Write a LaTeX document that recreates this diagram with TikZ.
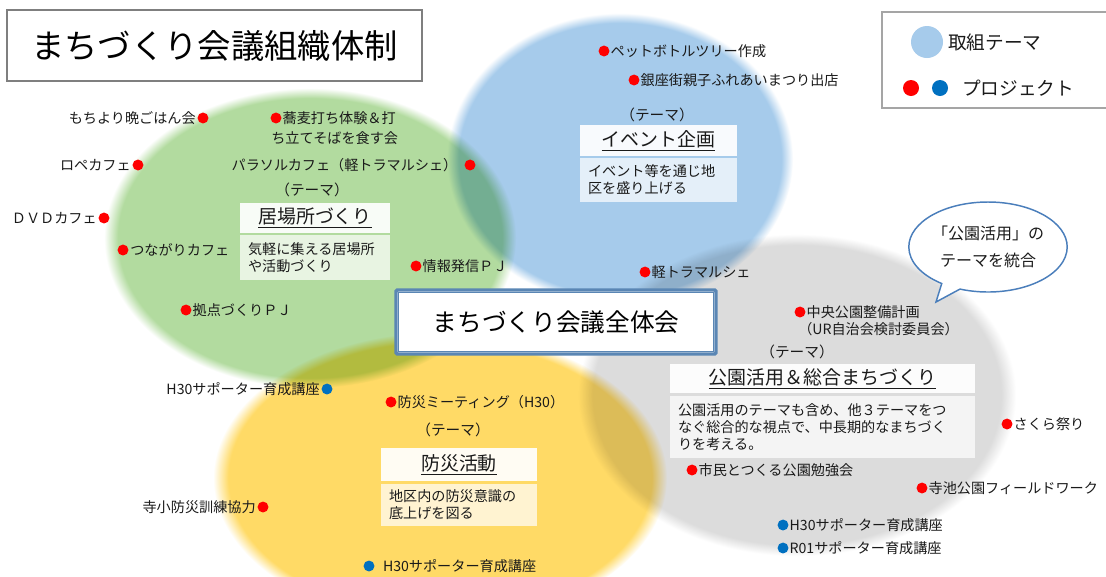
\documentclass[tikz,border=0pt]{standalone}
\usepackage{fontspec}
\setmainfont{Noto Sans CJK JP}
\usetikzlibrary{shapes.callouts}
\definecolor{cgreen}{HTML}{B2DB9F}
\definecolor{cblue}{HTML}{A6CBEB}
\definecolor{cgray}{HTML}{DCDCDC}
\definecolor{cyellow}{HTML}{FFDA66}
\definecolor{dred}{HTML}{FF0000}
\definecolor{dblue}{HTML}{0070C0}
\definecolor{frameblue}{HTML}{5A86B4}
\definecolor{callblue}{HTML}{4A7EBB}
\definecolor{txt}{HTML}{1A1A1A}
\definecolor{boxgray}{HTML}{7F7F7F}
\pgfdeclareradialshading{sgreen}{\pgfpoint{0bp}{0bp}}{color(0bp)=(cgreen); color(23.3bp)=(cgreen); color(25bp)=(white); color(50bp)=(white)}
\pgfdeclareradialshading{sblue}{\pgfpoint{0bp}{0bp}}{color(0bp)=(cblue); color(23.3bp)=(cblue); color(25bp)=(white); color(50bp)=(white)}
\pgfdeclareradialshading{sgray}{\pgfpoint{0bp}{0bp}}{color(0bp)=(cgray); color(23.3bp)=(cgray); color(25bp)=(white); color(50bp)=(white)}
\pgfdeclareradialshading{syellow}{\pgfpoint{0bp}{0bp}}{color(0bp)=(cyellow); color(23.3bp)=(cyellow); color(25bp)=(white); color(50bp)=(white)}
\tikzset{
  rdot/.style={circle, fill=dred, inner sep=0pt, minimum size=8.2pt},
  bdot/.style={circle, fill=dblue, inner sep=0pt, minimum size=8.2pt},
  lbl/.style={inner sep=0pt, font=\fontsize{10.6}{12.75}\selectfont, text=txt, align=left},
  tema/.style={inner sep=0pt, font=\fontsize{11}{13}\selectfont, text=txt},
  ttlbox/.style={fill=white, fill opacity=0.92, text opacity=1, inner sep=0pt, font=\fontsize{14.2}{16}\selectfont, text=txt},
  descbox/.style={fill=white, fill opacity=0.7, text opacity=1, inner xsep=6pt, inner ysep=0pt, align=left, font=\fontsize{10.6}{12.75}\selectfont, text=txt}
}
\begin{document}
\begin{tikzpicture}[x=0.75pt,y=-0.75pt]
\useasboundingbox (0,0) rectangle (1106,576);
\fill[white] (0,0) rectangle (1106,576);
% theme areas
\begin{scope}[blend mode=multiply]
\path[shading=sgreen] (310,238) ellipse [x radius=206, y radius=150];
\path[shading=sblue] (620,159) ellipse [x radius=173, y radius=146];
\path[shading=sgray] (797,395) ellipse [x radius=219, y radius=161];
\path[shading=syellow] (440,478) ellipse [x radius=227, y radius=146];
\end{scope}
% title
\node[draw=boxgray, line width=1.2pt, fill=white, minimum width=311.25pt, minimum height=53.25pt, inner sep=0pt, font=\fontsize{25}{28}\selectfont] (title) at (214.5,45.5) {まちづくり会議組織体制};
% legend
\node[draw=boxgray!70, line width=0.8pt, fill=white, minimum width=171pt, minimum height=72pt, inner sep=0pt] (legend) at (996,60) {};
\node[circle, fill=cblue, inner sep=0pt, minimum size=24pt] (lgdisc) at (927,42) {};
\node[inner sep=0pt, anchor=west, font=\fontsize{14}{16}\selectfont, text=txt] (lgtheme) at (948,42) {取組テーマ};
\node[rdot, minimum size=12pt] (lgred) at (911,88) {};
\node[bdot, minimum size=12pt] (lgblue) at (940,88) {};
\node[inner sep=0pt, anchor=west, font=\fontsize{14}{16}\selectfont, text=txt] (lgproj) at (962,88) {プロジェクト};
% central box
\node[draw=frameblue, line width=2.6pt, fill=white, minimum width=240pt, minimum height=48pt, inner sep=0pt, rounded corners=1pt, font=\fontsize{18.5}{22}\selectfont] (center) at (556,322) {まちづくり会議全体会};
\draw[frameblue, line width=0.8pt] ([shift={(4.5,4.5)}]center.north west) rectangle ([shift={(-4.5,-4.5)}]center.south east);
% callout
\coordinate (tip) at (936,302);
\node[ellipse callout, callout absolute pointer=(tip), draw=callblue, line width=1.1pt, fill=white, minimum width=111pt, minimum height=67.5pt, inner sep=0pt, align=center, font=\fontsize{12}{20}\selectfont, text=txt] (call) at (988,247) {「公園活用」の\\テーマを統合};
% theme: 居場所づくり
\node[tema] (temaA) at (312,190) {（テーマ）};
\node[ttlbox, minimum width=112.5pt, minimum height=22.5pt] (ttlA) at (315,218) {\underline{居場所づくり}};
\node[descbox, text width=100.5pt, minimum height=33.75pt] (descA) at (315,257.5) {気軽に集える居場所\\や活動づくり};
% theme: イベント企画
\node[tema] (temaB) at (657,115) {（テーマ）};
\node[ttlbox, minimum width=117.75pt, minimum height=23.25pt] (ttlB) at (658.5,140.5) {\underline{イベント企画}};
\node[descbox, text width=105.75pt, minimum height=33pt] (descB) at (658.5,180) {イベント等を通じ地\\区を盛り上げる};
% theme: 公園活用
\node[tema] (temaC) at (797,352) {（テーマ）};
\node[ttlbox, minimum width=228.75pt, minimum height=21.75pt] (ttlC) at (822.5,378.5) {\underline{公園活用＆総合まちづくり}};
\node[descbox, text width=216.75pt, minimum height=46.5pt] (descC) at (822.5,427) {公園活用のテーマも含め、他３テーマをつ\\なぐ総合的な視点で、中長期的なまちづく\\りを考える。};
% theme: 防災活動
\node[tema] (temaD) at (453,430) {（テーマ）};
\node[ttlbox, minimum width=117pt, minimum height=24.75pt] (ttlD) at (459,464.5) {\underline{防災活動}};
\node[descbox, text width=105pt, minimum height=31.5pt] (descD) at (459,505) {地区内の防災意識の\\底上げを図る};
% projects
\node[rdot] (d1) at (203,118) {};
\node[lbl, anchor=east] (l1) at ([xshift=-1pt]d1.west) {もちより晩ごはん会};
\node[rdot] (d2) at (276,118) {};
\node[lbl, anchor=west] (l2) at ([xshift=0.5pt]d2.east) {蕎麦打ち体験＆打};
\node[lbl, anchor=west] (l2b) at (271,138) {ち立てそばを食す会};
\node[rdot] (d3) at (138,165) {};
\node[lbl, anchor=east] (l3) at ([xshift=-1pt]d3.west) {ロペカフェ};
\node[rdot] (d4) at (470,165) {};
\node[lbl, anchor=east] (l4) at ([xshift=-5pt]d4.west) {パラソルカフェ（軽トラマルシェ）};
\node[rdot] (d5) at (104,218) {};
\node[lbl, anchor=east] (l5) at ([xshift=-1pt]d5.west) {ＤＶＤカフェ};
\node[rdot] (d6) at (123,250) {};
\node[lbl, anchor=west] (l6) at ([xshift=1pt]d6.east) {つながりカフェ};
\node[rdot] (d7) at (416,266) {};
\node[lbl, anchor=west] (l7) at ([xshift=0.5pt]d7.east) {情報発信ＰＪ};
\node[rdot] (d8) at (186,310) {};
\node[lbl, anchor=west] (l8) at ([xshift=0.5pt]d8.east) {拠点づくりＰＪ};
\node[rdot] (d9) at (604,51) {};
\node[lbl, anchor=west] (l9) at ([xshift=0.5pt]d9.east) {ペットボトルツリー作成};
\node[rdot] (d10) at (634,80) {};
\node[lbl, anchor=west] (l10) at ([xshift=0.5pt]d10.east) {銀座街親子ふれあいまつり出店};
\node[rdot] (d11) at (645,272) {};
\node[lbl, anchor=west] (l11) at ([xshift=0.5pt]d11.east) {軽トラマルシェ};
\node[rdot] (d12) at (800,312) {};
\node[lbl, anchor=west] (l12) at ([xshift=0.5pt]d12.east) {中央公園整備計画};
\node[lbl, anchor=west] (l12b) at (798,329) {（UR自治会検討委員会）};
\node[bdot] (d13) at (327,389) {};
\node[lbl, anchor=east] (l13) at ([xshift=-1pt]d13.west) {H30サポーター育成講座};
\node[rdot] (d14) at (391,402) {};
\node[lbl, anchor=west] (l14) at ([xshift=0.5pt]d14.east) {防災ミーティング（H30）};
\node[rdot] (d15) at (263,507) {};
\node[lbl, anchor=east] (l15) at ([xshift=-1pt]d15.west) {寺小防災訓練協力};
\node[bdot] (d16) at (369,566) {};
\node[lbl, anchor=west] (l16) at ([xshift=6pt]d16.east) {H30サポーター育成講座};
\node[rdot] (d17) at (1007,424) {};
\node[lbl, anchor=west] (l17) at ([xshift=0.5pt]d17.east) {さくら祭り};
\node[rdot] (d18) at (692,470) {};
\node[lbl, anchor=west] (l18) at ([xshift=0.5pt]d18.east) {市民とつくる公園勉強会};
\node[rdot] (d19) at (922,488) {};
\node[lbl, anchor=west] (l19) at ([xshift=0.5pt]d19.east) {寺池公園フィールドワーク};
\node[bdot] (d20) at (783,525) {};
\node[lbl, anchor=west] (l20) at ([xshift=0.5pt]d20.east) {H30サポーター育成講座};
\node[bdot] (d21) at (783,548) {};
\node[lbl, anchor=west] (l21) at ([xshift=0.5pt]d21.east) {R01サポーター育成講座};
\end{tikzpicture}
\end{document}
